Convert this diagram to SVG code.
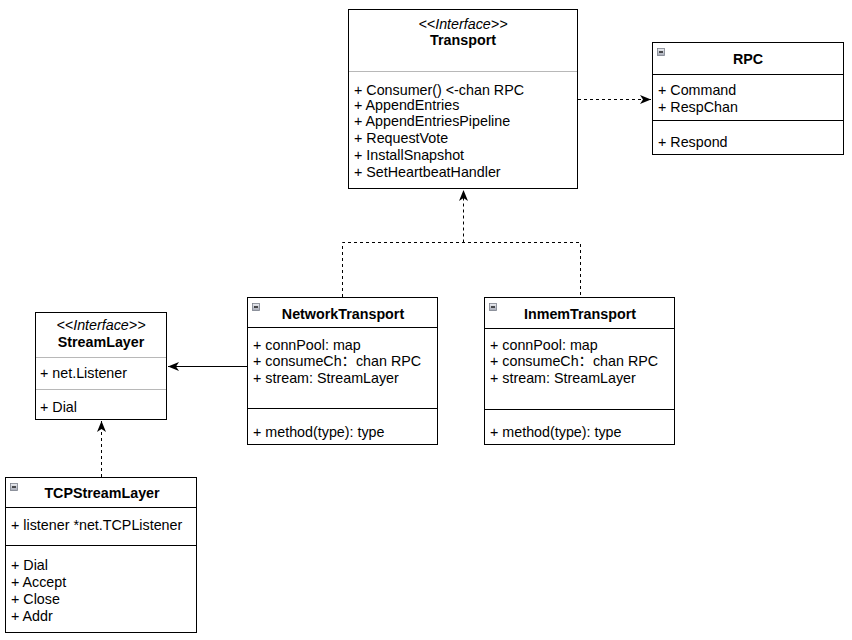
<svg xmlns="http://www.w3.org/2000/svg" width="852" height="640" viewBox="0 0 852 640">
<defs>
<marker id="arr" markerUnits="userSpaceOnUse" markerWidth="12" markerHeight="10" viewBox="0 0 12 10" refX="11" refY="5" orient="auto">
<path d="M0,0.5 L11,5 L0,9.5 L3,5 Z" fill="#000"/>
</marker>
<linearGradient id="ig" x1="0" y1="0" x2="0" y2="1"><stop offset="0" stop-color="#eef0f4"/><stop offset="1" stop-color="#a4a8b4"/></linearGradient>
</defs>
<style>
.box{fill:#fff;stroke:#000;stroke-width:1}
.dv{stroke:#000;stroke-width:1}
.dg{stroke:#b8b8b8;stroke-width:1}
text{font-family:"Liberation Sans",Arial,Helvetica,"Noto Sans CJK SC",sans-serif;font-size:14.3px;fill:#000}
.t{font-weight:bold;text-anchor:middle}
.st{font-style:italic;text-anchor:middle}
.c{stroke:#000;stroke-width:1;fill:none}
.d{stroke-dasharray:3 3}
.ic{fill:url(#ig);stroke:#7c808c;stroke-width:0.8}
.mn{stroke:#111;stroke-width:1.4}
</style>
<rect width="852" height="640" fill="#fff"/>
<g id="connectors">
<line class="c d" x1="578" y1="99.5" x2="651" y2="99.5" marker-end="url(#arr)"/>
<polyline class="c d" points="342.5,297 342.5,242.5 580.5,242.5 580.5,297"/>
<line class="c d" x1="463.5" y1="242.5" x2="463.5" y2="190" marker-end="url(#arr)"/>
<line class="c" x1="247" y1="366.5" x2="168" y2="366.5" marker-end="url(#arr)"/>
<line class="c d" x1="101.5" y1="477" x2="101.5" y2="421" marker-end="url(#arr)"/>
</g>
<g id="Transport">
<rect class="box" x="348.5" y="9.5" width="229" height="179"/>
<line class="dg" x1="349" y1="71.5" x2="577" y2="71.5"/>
<text class="st" x="463" y="29">&lt;&lt;Interface&gt;&gt;</text>
<text class="t" x="463" y="45">Transport</text>
<text x="354" y="95">+ Consumer() &lt;-chan RPC</text>
<text x="354" y="110">+ AppendEntries</text>
<text x="354" y="126">+ AppendEntriesPipeline</text>
<text x="354" y="143">+ RequestVote</text>
<text x="354" y="160">+ InstallSnapshot</text>
<text x="354" y="177">+ SetHeartbeatHandler</text>
</g>
<g id="RPC">
<rect class="box" x="652.5" y="42.5" width="191" height="112"/>
<line class="dv" x1="653" y1="74.5" x2="843" y2="74.5"/>
<line class="dv" x1="653" y1="120.5" x2="843" y2="120.5"/>
<rect class="ic" x="657.5" y="48.5" width="7" height="7"/>
<line class="mn" x1="659" y1="52" x2="663" y2="52"/>
<text class="t" x="748" y="64">RPC</text>
<text x="658" y="95">+ Command</text>
<text x="658" y="112">+ RespChan</text>
<text x="658" y="147">+ Respond</text>
</g>
<g id="NetworkTransport">
<rect class="box" x="247.5" y="297.5" width="190" height="147"/>
<line class="dv" x1="248" y1="327.5" x2="437" y2="327.5"/>
<line class="dv" x1="248" y1="408.5" x2="437" y2="408.5"/>
<rect class="ic" x="252.5" y="303.5" width="7" height="7"/>
<line class="mn" x1="254" y1="307" x2="258" y2="307"/>
<text class="t" x="343" y="319">NetworkTransport</text>
<text x="253" y="350">+ connPool: map</text>
<text x="253" y="366">+ consumeCh：chan RPC</text>
<text x="253" y="383">+ stream: StreamLayer</text>
<text x="253" y="437">+ method(type): type</text>
</g>
<g id="InmemTransport">
<rect class="box" x="484.5" y="297.5" width="190" height="147"/>
<line class="dv" x1="485" y1="328.5" x2="674" y2="328.5"/>
<line class="dv" x1="485" y1="409.5" x2="674" y2="409.5"/>
<rect class="ic" x="489.5" y="303.5" width="7" height="7"/>
<line class="mn" x1="491" y1="307" x2="495" y2="307"/>
<text class="t" x="580" y="319">InmemTransport</text>
<text x="490" y="350">+ connPool: map</text>
<text x="490" y="366">+ consumeCh：chan RPC</text>
<text x="490" y="383">+ stream: StreamLayer</text>
<text x="490" y="437">+ method(type): type</text>
</g>
<g id="StreamLayer">
<rect class="box" x="35.5" y="312.5" width="131" height="107"/>
<line class="dg" x1="36" y1="357.5" x2="166" y2="357.5"/>
<line class="dg" x1="36" y1="389.5" x2="166" y2="389.5"/>
<text class="st" x="101" y="330">&lt;&lt;Interface&gt;&gt;</text>
<text class="t" x="101" y="347">StreamLayer</text>
<text x="40" y="378">+ net.Listener</text>
<text x="40" y="412">+ Dial</text>
</g>
<g id="TCPStreamLayer">
<rect class="box" x="5.5" y="477.5" width="191" height="155"/>
<line class="dv" x1="6" y1="507.5" x2="196" y2="507.5"/>
<line class="dv" x1="6" y1="545.5" x2="196" y2="545.5"/>
<rect class="ic" x="10.5" y="483.5" width="7" height="7"/>
<line class="mn" x1="12" y1="487" x2="16" y2="487"/>
<text class="t" x="102" y="498">TCPStreamLayer</text>
<text x="11" y="530">+ listener *net.TCPListener</text>
<text x="11" y="570">+ Dial</text>
<text x="11" y="587">+ Accept</text>
<text x="11" y="604">+ Close</text>
<text x="11" y="621">+ Addr</text>
</g>
</svg>
